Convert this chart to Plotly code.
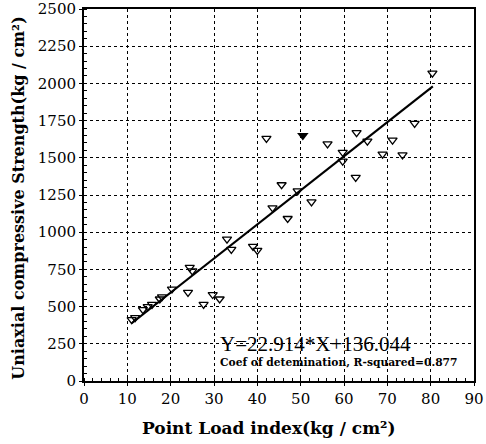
import plotly.graph_objects as go

# Data
point_load = [11.0, 11.8, 13.6, 14.7, 15.7, 17.5, 18.0, 20.3, 24.0, 24.4, 25.0, 27.6,
              29.7, 31.3, 33.0, 34.0, 39.0, 40.0, 42.1, 43.5, 45.6, 47.0, 49.3, 52.5,
              56.2, 59.7, 59.7, 62.7, 62.9, 65.4, 68.9, 71.2, 73.5, 76.3, 80.4]
ucs = [412, 426, 480, 500, 515, 551, 566, 618, 596, 764, 740, 515,
       581, 551, 953, 885, 905, 878, 1631, 1164, 1319, 1092, 1278, 1204,
       1594, 1537, 1478, 1368, 1669, 1612, 1525, 1619, 1519, 1731, 2069]
filled_x = [50.5]
filled_y = [1650]

slope = 22.914
intercept = 136.044
fit_x = [11.0, 80.5]
fit_y = [slope * v + intercept for v in fit_x]

x_ticks = [0, 10, 20, 30, 40, 50, 60, 70, 80, 90]
y_ticks = [0, 250, 500, 750, 1000, 1250, 1500, 1750, 2000, 2250, 2500]

SERIF = "DejaVu Serif"
SERIF2 = "Liberation Serif"

fig = go.Figure()
fig.add_trace(go.Scatter(x=fit_x, y=fit_y, mode="lines",
                         line=dict(color="black", width=2.2), showlegend=False))
fig.add_trace(go.Scatter(x=point_load, y=ucs, mode="markers",
                         marker=dict(symbol="triangle-down-open", size=8,
                                     color="black", line=dict(width=1.3, color="black")),
                         showlegend=False))
fig.add_trace(go.Scatter(x=filled_x, y=filled_y, mode="markers",
                         marker=dict(symbol="triangle-down", size=10, color="black"),
                         showlegend=False))

fig.add_annotation(x=31, y=250, xref="x", yref="y", xanchor="left", yanchor="middle",
                   text="Y=22.914*X+136.044", showarrow=False,
                   font=dict(family=SERIF2, size=21, color="black"))
fig.add_annotation(x=31, y=125, xref="x", yref="y", xanchor="left", yanchor="middle",
                   text="<b>Coef of detemination, R-squared=0.877</b>", showarrow=False,
                   font=dict(family=SERIF, size=10.7, color="black"))

# axis titles as annotations for exact placement
fig.add_annotation(x=0.474, y=0, xref="paper", yref="paper", xanchor="center", yanchor="middle",
                   yshift=-47, text="<b>Point Load index(kg / cm²)</b>", showarrow=False,
                   font=dict(family=SERIF, size=17, color="black"))
fig.add_annotation(x=0, y=0.49, xref="paper", yref="paper", xanchor="center", yanchor="middle",
                   xshift=-65, textangle=-90,
                   text="<b>Uniaxial compressive Strength(kg / cm²)</b>", showarrow=False,
                   font=dict(family=SERIF, size=16, color="black"))

axis_common = dict(
    showline=True, linecolor="black", linewidth=2, mirror=True,
    showgrid=True, gridcolor="black", griddash="dot", gridwidth=1,
    zeroline=False, ticks="outside", ticklen=3, tickcolor="black",
    tickfont=dict(family=SERIF, size=15, color="black"),
    automargin=False, ticklabeloverflow="allow",
)

fig.update_xaxes(range=[0, 90], tickvals=x_ticks,
                 minor=dict(dtick=2, ticks="inside", ticklen=3, tickcolor="black", showgrid=False),
                 **axis_common)
fig.update_yaxes(range=[0, 2500], tickvals=y_ticks,
                 minor=dict(dtick=50, ticks="inside", ticklen=3, tickcolor="black", showgrid=False),
                 **axis_common)

fig.update_layout(width=486, height=444, paper_bgcolor="white", plot_bgcolor="white",
                  margin=dict(l=84, r=12, t=9, b=63, autoexpand=False), showlegend=False)

fig.write_html("out.html", config={"displayModeBar": False},
               post_script="document.body.style.margin='0';")
